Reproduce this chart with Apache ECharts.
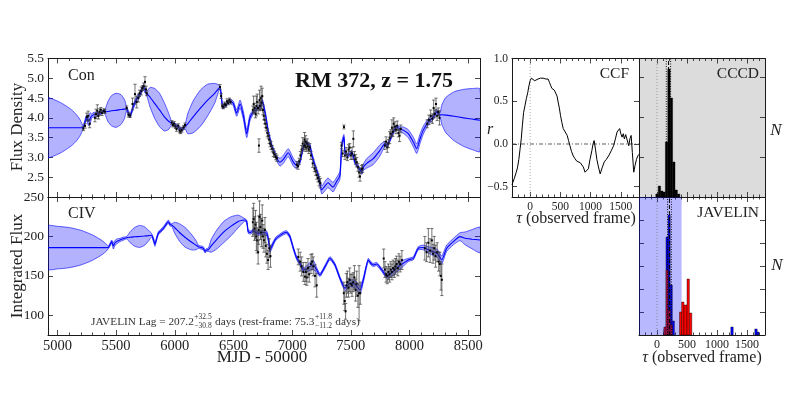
<!DOCTYPE html>
<html>
<head>
<meta charset="utf-8">
<script src="https://cdn.jsdelivr.net/npm/echarts@6/dist/echarts.min.js"></script>
<style>
html, body { margin: 0; padding: 0; background: #fff; }
#chart { width: 789px; height: 395px; }
</style>
</head>
<body>
<div id="chart"></div>
<script>
// tick labels
var mjdTicks = [5000, 5500, 6000, 6500, 7000, 7500, 8000, 8500];
var tauTicks = [0, 500, 1000, 1500];
var conTicks = [2.5, 3.0, 3.5, 4.0, 4.5, 5.0, 5.5];
var civTicks = [100, 150, 200, 250];
var rTicks = [-0.5, 0.0, 0.5, 1.0];

// continuum model: [MJD-50000, mean, sigma]
var conModel = [
  [4920,3.75,0.75],[4980,3.75,0.70],[5037,3.75,0.62],[5090,3.75,0.52],[5122,3.75,0.45],
  [5160,3.75,0.34],[5190,3.75,0.22],[5210,3.75,0.10],[5221,3.76,0.03],[5240,3.95,0.06],
  [5250,4.02,0.05],[5263,3.91,0.10],[5278,3.98,0.15],[5292,4.05,0.05],[5310,4.08,0.06],
  [5335,4.10,0.04],[5363,4.12,0.04],[5391,4.16,0.04],[5406,4.15,0.06],[5430,4.16,0.25],
  [5460,4.18,0.38],[5500,4.19,0.43],[5540,4.21,0.38],[5570,4.22,0.25],[5590,4.23,0.05],
  [5605,4.12,0.06],[5619,4.05,0.05],[5647,4.29,0.06],[5676,4.48,0.06],[5704,4.60,0.06],
  [5732,4.77,0.07],[5761,4.62,0.06],[5790,4.52,0.25],[5830,4.36,0.38],[5870,4.20,0.42],
  [5910,4.03,0.36],[5945,3.92,0.22],[5974,3.86,0.05],[6000,3.82,0.05],[6030,3.76,0.05],
  [6060,3.70,0.05],[6087,3.78,0.05],[6110,3.85,0.25],[6155,4.02,0.40],[6220,4.25,0.46],
  [6280,4.45,0.40],[6340,4.62,0.25],[6385,4.77,0.04],[6408,4.28,0.05],[6430,4.32,0.05],
  [6450,4.38,0.05],[6470,4.43,0.05],[6499,4.36,0.06],[6527,4.12,0.08],[6556,4.35,0.10],
  [6585,4.05,0.10],[6613,3.60,0.10],[6640,4.00,0.08],[6669,4.15,0.05],[6700,4.23,0.05],
  [6726,4.28,0.05],[6746,4.42,0.05],[6768,4.15,0.05],[6783,3.90,0.05],[6797,3.64,0.05],
  [6826,3.30,0.05],[6854,3.09,0.05],[6868,2.98,0.06],[6896,2.88,0.10],[6924,2.95,0.10],
  [6967,3.12,0.10],[7010,2.88,0.10],[7039,2.80,0.08],[7067,2.90,0.05],[7095,3.26,0.05],
  [7124,3.37,0.05],[7152,3.28,0.05],[7166,3.09,0.05],[7194,2.80,0.05],[7223,2.54,0.06],
  [7252,2.18,0.10],[7280,2.28,0.12],[7305,2.36,0.12],[7348,2.25,0.12],[7380,2.40,0.10],
  [7407,2.55,0.10],[7422,3.30,0.08],[7441,3.52,0.06],[7450,3.13,0.05],[7476,3.05,0.05],
  [7507,3.13,0.05],[7535,2.88,0.05],[7564,2.75,0.05],[7592,2.63,0.06],[7606,2.75,0.08],
  [7635,2.85,0.12],[7691,2.97,0.15],[7748,3.18,0.14],[7791,3.35,0.06],[7808,3.30,0.05],
  [7861,3.64,0.05],[7890,3.77,0.05],[7919,3.72,0.05],[7947,3.69,0.08],[7989,3.60,0.10],
  [8032,3.39,0.12],[8061,3.22,0.12],[8089,3.47,0.12],[8117,3.69,0.10],[8160,3.90,0.08],
  [8202,4.02,0.06],[8231,4.15,0.06],[8259,4.07,0.05],[8275,4.08,0.25],[8310,4.07,0.45],
  [8380,4.04,0.62],[8460,4.00,0.72],[8530,3.97,0.77],[8600,3.94,0.79]
];

// continuum observations: [MJD-50000, flux, error]
var conPts = [
  [5221,3.73,0.05],[5235,3.80,0.06],[5250,4.02,0.10],[5262,4.05,0.12],[5275,3.85,0.10],
  [5320,4.00,0.10],[5330,4.10,0.12],[5340,4.18,0.15],[5350,4.05,0.08],[5360,4.15,0.08],
  [5370,4.20,0.06],[5380,4.12,0.06],[5395,4.18,0.05],[5405,4.16,0.05],
  [5590,4.25,0.05],[5605,4.08,0.06],[5620,4.06,0.05],[5640,4.35,0.15],[5661,4.60,0.25],
  [5676,4.40,0.15],[5690,4.50,0.10],[5700,4.62,0.08],[5715,4.68,0.10],[5725,4.75,0.06],
  [5735,4.80,0.08],[5746,4.91,0.13],[5755,4.72,0.08],[5761,4.62,0.06],
  [5975,3.88,0.05],[5985,3.82,0.05],[5995,3.85,0.06],[6005,3.78,0.05],[6015,3.72,0.06],
  [6030,3.80,0.05],[6040,3.68,0.06],[6050,3.65,0.05],[6060,3.70,0.06],[6075,3.76,0.05],
  [6087,3.82,0.05],
  [6385,4.78,0.06],[6395,4.55,0.06],[6405,4.30,0.05],[6415,4.28,0.05],[6425,4.35,0.05],
  [6435,4.32,0.05],[6445,4.42,0.06],[6455,4.38,0.05],[6465,4.45,0.05],[6475,4.40,0.05],
  [6665,4.20,0.10],[6672,4.35,0.20],[6680,4.25,0.12],[6688,4.10,0.10],[6695,4.30,0.25],
  [6702,4.40,0.20],[6710,4.25,0.15],[6717,3.30,0.17],[6722,4.45,0.25],[6728,4.30,0.12],
  [6735,4.50,0.30],[6740,4.38,0.15],[6745,4.55,0.20],[6752,4.20,0.12],[6758,4.05,0.10],
  [6765,3.95,0.10],[6772,3.85,0.10],[6780,3.75,0.08],[6788,3.62,0.10],[6796,3.55,0.08],
  [6804,3.45,0.10],[6812,3.35,0.08],[6820,3.30,0.10],[6830,3.22,0.08],[6840,3.12,0.10],
  [6850,3.08,0.08],[6860,3.02,0.08],[6870,2.98,0.08],
  [7040,2.82,0.08],[7050,2.78,0.08],[7060,2.90,0.08],[7070,3.05,0.10],[7080,3.20,0.10],
  [7090,3.35,0.15],[7100,3.28,0.12],[7105,3.45,0.18],[7110,3.30,0.10],[7115,3.40,0.15],
  [7120,3.25,0.10],[7128,3.35,0.12],[7135,3.28,0.10],[7142,3.20,0.10],[7150,3.25,0.10],
  [7160,3.05,0.10],[7175,2.85,0.10],[7190,2.72,0.08],[7200,2.65,0.10],[7210,2.55,0.10],
  [7220,2.48,0.10],[7230,2.40,0.12],[7240,2.35,0.12],
  [7420,3.30,0.08],[7430,3.10,0.08],[7441,3.77,0.05],[7450,3.05,0.10],[7460,3.15,0.10],
  [7470,3.00,0.08],[7480,3.20,0.12],[7490,3.25,0.10],[7500,3.05,0.10],[7510,3.10,0.15],
  [7521,3.47,0.20],[7530,3.05,0.10],[7540,2.95,0.12],[7550,2.88,0.12],[7560,2.75,0.10],
  [7570,2.62,0.12],[7578,2.52,0.12],[7590,2.70,0.10],[7600,2.72,0.10],
  [7790,3.30,0.10],[7800,3.40,0.12],[7810,3.25,0.12],[7820,3.35,0.10],[7830,3.50,0.15],
  [7840,3.60,0.10],[7850,3.75,0.20],[7858,3.65,0.12],[7865,3.85,0.15],[7875,3.78,0.12],
  [7885,3.70,0.10],[7895,3.80,0.12],[7905,3.62,0.10],[7915,3.55,0.15],[7925,3.72,0.10],
  [8150,3.85,0.10],[8165,3.95,0.12],[8180,4.05,0.15],[8195,3.98,0.12],[8205,4.25,0.20],
  [8215,4.10,0.10],[8225,4.35,0.15],[8235,4.05,0.12],[8245,4.15,0.10],[8255,4.00,0.18]
];

// CIV model: [MJD-50000, mean, sigma]
var civModel = [
  [4920,185.8,27.5],[5000,185.8,27],[5100,185.8,25.5],[5200,185.8,22],[5300,185.8,16],
  [5380,185.8,9],[5420,185.8,4],[5434,186,1.5],[5450,190,2],[5463,193.4,2],[5477,188,4],
  [5491,192,3],[5510,194,3],[5533,195.5,2],[5560,197,2],[5590,198.4,1.5],[5620,199,7],
  [5660,199.5,12],[5700,200,14],[5740,200.5,12],[5775,201,7],[5803,201.5,2],[5818,196,2.5],
  [5831,190,2.5],[5845,197,2],[5860,204,2],[5880,207,2],[5902,210.3,2],[5925,215,2],
  [5945,218.7,2],[5960,215,2],[5974,214.5,1.5],[6000,211,7],[6040,205,11],[6087,199,12.5],
  [6140,193,10],[6180,189,6],[6200,187,2],[6222,186,2],[6243,185,2],[6258,181,2],
  [6272,182.8,2],[6286,183,2],[6310,188,8],[6357,196,12],[6420,206,13.5],[6480,213,12],
  [6540,219,8],[6575,220.5,4],[6598,220.8,1.5],[6613,218.7,2],[6626,206,2],[6645,205,2],
  [6669,207.3,2],[6690,205,2.5],[6711,204,2.5],[6745,205,2.5],[6783,204,3],[6800,194,3],
  [6811,182.8,3],[6839,191.3,2.5],[6860,197,2],[6882,199.7,2],[6924,204,2],[6953,205.3,2],
  [6981,199.7,2],[7010,185,2],[7039,172.3,2],[7067,166,2.5],[7095,157.5,3],[7124,158.6,4],
  [7150,162,5],[7180,163.8,6],[7209,157.5,3],[7237,151.2,2],[7280,161.7,2],[7322,172.3,2],
  [7365,163.8,2],[7407,147,2],[7450,134.3,3],[7493,140.6,4],[7535,139.4,5],[7578,132,5],
  [7606,144.8,3],[7648,170.2,2],[7670,166,2],[7691,163.8,2],[7720,165,2],[7763,157.5,2],
  [7805,150,3],[7848,153.6,4],[7890,159.8,5],[7947,166,4],[7989,170.2,2],[8032,172.3,2],
  [8074,185,2],[8117,186,3],[8160,183,4],[8202,180.7,5],[8240,178,5],[8274,170.2,5],
  [8316,185,4],[8373,193.4,4],[8430,199.7,5],[8472,197.6,8],[8530,196.5,12],[8600,195.5,16]
];

// CIV observations: [MJD-50000, flux, error]
var civPts = [
  [6665,218,18],[6672,222,20],[6680,210,15],[6688,215,18],[6695,200,18],[6702,195,16],
  [6710,180,15],[6715,208,18],[6722,225,20],[6730,212,16],[6738,205,18],[6745,220,20],
  [6752,200,15],[6760,195,15],[6768,208,16],[6775,188,14],[6785,178,12],[6795,170,12],
  [6805,185,12],[6815,175,14],
  [7052,174,10],[7068,168,12],[7081,162,12],[7095,155,12],[7109,149,10],[7118,155,12],
  [7125,148,10],[7135,160,12],[7145,152,10],[7160,165,12],[7170,168,10],[7180,162,12],
  [7195,150,14],[7209,138,15],
  [7440,128,14],[7448,118,12],[7455,105,10],[7462,138,15],[7470,142,14],[7480,135,12],
  [7490,145,15],[7500,140,12],[7510,138,14],[7520,142,12],[7530,148,15],[7540,132,14],
  [7550,140,16],[7560,125,15],[7570,128,35],[7580,128,14],
  [7780,172,12],[7790,158,10],[7800,152,10],[7810,150,10],[7820,155,10],[7830,152,10],
  [7840,158,10],[7850,155,10],[7860,160,10],[7870,158,10],[7880,162,10],[7890,165,10],
  [7900,160,10],[7910,168,10],[7920,165,10],[7935,170,12],
  [8130,185,15],[8145,180,12],[8160,192,18],[8175,182,15],[8190,195,15],[8200,178,12],
  [8210,185,15],[8222,175,14],[8235,180,12],[8248,168,12],[8258,165,15],[8268,150,18],
  [8275,145,20]
];

// cross-correlation function: [tau, r]
var ccf = [
  [-300,-0.48],[-287,-0.45],[-260,-0.40],[-230,-0.33],[-210,-0.28],[-187,-0.18],[-165,-0.05],
  [-147,0.06],[-128,0.22],[-108,0.37],[-85,0.45],[-63,0.53],[-40,0.60],[-20,0.68],[0,0.74],
  [20,0.77],[45,0.76],[75,0.74],[100,0.76],[130,0.76],[170,0.77],[213,0.77],[260,0.76],
  [297,0.76],[320,0.72],[342,0.68],[360,0.65],[380,0.64],[400,0.63],[425,0.63],[445,0.56],
  [463,0.49],[483,0.42],[503,0.33],[525,0.25],[547,0.18],[580,0.14],[613,0.10],[635,0.04],
  [658,-0.02],[685,-0.09],[713,-0.14],[740,-0.17],[770,-0.20],[800,-0.19],[830,-0.22],
  [853,-0.23],[880,-0.27],[908,-0.33],[935,-0.31],[963,-0.29],[990,-0.18],[1020,-0.08],
  [1040,0.00],[1058,0.04],[1080,-0.06],[1103,-0.18],[1130,-0.27],[1158,-0.35],[1190,-0.28],
  [1225,-0.21],[1260,-0.18],[1297,-0.14],[1340,-0.08],[1380,-0.02],[1410,0.06],[1437,0.14],
  [1460,0.12],[1480,0.18],[1500,0.12],[1520,0.08],[1540,0.12],[1558,0.06],[1580,0.11],
  [1603,0.10],[1630,-0.02],[1650,0.06],[1670,0.10],[1690,-0.10],[1713,-0.33],[1735,-0.25],
  [1758,-0.18],[1780,-0.14],[1800,-0.12]
];

// histograms: [bin start, bin end, N]
var cccdBins = [
  [-20,20,30],[20,60,110],[60,100,60],[100,140,50],[140,180,550],[180,220,1280],
  [220,260,990],[260,300,350],[300,340,70],[340,380,30]
];
var javBlue = [
  [115,150,30],[150,185,490],[185,220,600],[220,255,250],[255,290,70],
  [1230,1270,40],[1630,1670,30],[1670,1700,15]
];
var javRedLow = [[115,150,40],[150,185,325],[185,220,125],[220,255,50]];
var javRedHigh = [[375,410,115],[410,450,165],[450,500,150],[500,540,280],[540,580,110]];
var javShade = [[-300, 410]];

// lag markers
var cccdLag = [155, 193, 227];
var javLag = [176, 207, 240];

var serif = '"Liberation Serif", "DejaVu Serif", serif';
var ink = '#1a1a1a';
var txtCol = '#222';

var xAxes = [], yAxes = [];
function fmt1(v) { return (v < 0 ? '\u2212' : '') + Math.abs(v).toFixed(1); }
function fmtInt(v) { return String(Math.round(v)); }
function addX(gi, min, max, pos, ticks, len, line, labels, fs) {
  xAxes.push({
    type: 'value', gridIndex: gi, min: min, max: max, position: pos,
    axisLine: { show: line, onZero: false, lineStyle: { color: ink, width: 1 } },
    axisTick: { show: true, inside: true, length: len, customValues: ticks, lineStyle: { color: ink, width: 0.8 } },
    axisLabel: labels ? { show: true, customValues: labels, fontFamily: serif, fontSize: fs, color: txtCol, margin: 4, formatter: fmtInt } : { show: false },
    splitLine: { show: false }
  });
  return xAxes.length - 1;
}
function addY(gi, min, max, pos, ticks, len, line, labels, fs, formatter) {
  yAxes.push({
    type: 'value', gridIndex: gi, min: min, max: max, position: pos,
    axisLine: { show: line, onZero: false, lineStyle: { color: ink, width: 1 } },
    axisTick: { show: true, inside: true, length: len, customValues: ticks, lineStyle: { color: ink, width: 0.8 } },
    axisLabel: labels ? { show: true, customValues: labels, fontFamily: serif, fontSize: fs, color: txtCol, margin: 4, formatter: formatter } : { show: false },
    splitLine: { show: false }
  });
  return yAxes.length - 1;
}
function minorTicks(a, b, step, majors) {
  var out = [];
  for (var v = a; v <= b; v += step) if (majors.indexOf(v) < 0) out.push(v);
  return out;
}

var mjdMinor = minorTicks(4900, 8600, 100, mjdTicks);
var tauMinor = minorTicks(-300, 1800, 100, tauTicks);

function box(gi, xr, yr, xMaj, xMin, xLab, xfs, yMaj, yLab, yfs, yfmt) {
  var xi = addX(gi, xr[0], xr[1], 'bottom', xMaj, 5, true, xLab, xfs);
  addX(gi, xr[0], xr[1], 'bottom', xMin, 2.5, false, null);
  addX(gi, xr[0], xr[1], 'top', xMaj, 5, true, null);
  addX(gi, xr[0], xr[1], 'top', xMin, 2.5, false, null);
  var yi = addY(gi, yr[0], yr[1], 'left', yMaj, 5, true, yLab, yfs, yfmt);
  addY(gi, yr[0], yr[1], 'right', yMaj, 5, true, null);
  return [xi, yi];
}

var grids = [
  { left: 48, top: 58.5, width: 432, height: 138.5 },
  { left: 48, top: 197, width: 432, height: 138 },
  { left: 512, top: 58.5, width: 127, height: 138.5 },
  { left: 639, top: 58.5, width: 126, height: 138.5, show: true, backgroundColor: '#dcdcdc', borderWidth: 0 },
  { left: 639, top: 197, width: 126, height: 138 }
];
grids.forEach(function (g) { g.containLabel = false; g.outerBoundsMode = 'none'; });

var aCon = box(0, [4920, 8600], [2.0, 5.5], mjdTicks, mjdMinor, null, 14, conTicks, conTicks, 13.5, function (v) { return v.toFixed(1); });
var aCiv = box(1, [4920, 8600], [75, 250], mjdTicks, mjdMinor, mjdTicks, 14.5, civTicks, civTicks, 13.5, fmtInt);
var aCcf = box(2, [-300, 1800], [-0.62, 1.0], tauTicks, tauMinor, tauTicks, 11.5, rTicks, rTicks, 11.5, fmt1);
var aCcd = box(3, [-300, 1800], [0, 1385], tauTicks, tauMinor, null, 11, [400, 800, 1200], null);
var aJav = box(4, [-300, 1800], [0, 690], tauTicks, tauMinor, tauTicks, 12, [115, 230, 345, 460, 575], null);

function clipOf(params) {
  var c = params.coordSys;
  return { type: 'rect', shape: { x: c.x, y: c.y, width: c.width, height: c.height } };
}

function bandSeries(ax, model) {
  return {
    type: 'custom', xAxisIndex: ax[0], yAxisIndex: ax[1], z: 1, silent: true,
    data: [[model[0][0], model[0][1]]],
    renderItem: function (params, api) {
      var up = [], lo = [];
      model.forEach(function (m) {
        up.push(api.coord([m[0], m[1] + m[2]]));
        lo.push(api.coord([m[0], m[1] - m[2]]));
      });
      return {
        type: 'polygon',
        shape: { points: up.concat(lo.reverse()), smooth: 0.2 },
        style: { fill: 'rgba(0,0,255,0.3)', stroke: 'rgba(0,0,255,0.75)', lineWidth: 0.8 },
        clipPath: clipOf(params)
      };
    }
  };
}
function meanSeries(ax, model) {
  return {
    type: 'line', xAxisIndex: ax[0], yAxisIndex: ax[1], z: 2, silent: true,
    data: model.map(function (m) { return [m[0], m[1]]; }),
    showSymbol: false, smooth: 0.2,
    lineStyle: { color: '#0000ff', width: 1.1 }
  };
}
function errSeries(ax, pts) {
  return {
    type: 'custom', xAxisIndex: ax[0], yAxisIndex: ax[1], z: 3, silent: true,
    data: pts,
    renderItem: function (params, api) {
      var t = api.value(0), y = api.value(1), e = api.value(2);
      var hi = api.coord([t, y + e]), lo = api.coord([t, y - e]), c = api.coord([t, y]);
      var st = { stroke: '#3a3a3a', lineWidth: 0.7 };
      return {
        type: 'group', children: [
          { type: 'line', shape: { x1: hi[0], y1: hi[1], x2: lo[0], y2: lo[1] }, style: st },
          { type: 'line', shape: { x1: hi[0] - 1.6, y1: hi[1], x2: hi[0] + 1.6, y2: hi[1] }, style: st },
          { type: 'line', shape: { x1: lo[0] - 1.6, y1: lo[1], x2: lo[0] + 1.6, y2: lo[1] }, style: st },
          { type: 'rect', shape: { x: c[0] - 1, y: c[1] - 1, width: 2, height: 2 }, style: { fill: '#000' } }
        ]
      };
    }
  };
}
function histSeries(ax, bins, fill, z) {
  return {
    type: 'custom', xAxisIndex: ax[0], yAxisIndex: ax[1], z: z, silent: true,
    data: bins,
    encode: { x: [0, 1], y: 2 },
    renderItem: function (params, api) {
      var a = api.coord([api.value(0), api.value(2)]);
      var b = api.coord([api.value(1), 0]);
      return {
        type: 'rect',
        shape: { x: a[0], y: a[1], width: b[0] - a[0], height: b[1] - a[1] },
        style: { fill: fill, stroke: '#000', lineWidth: 0.4 }
      };
    }
  };
}
function vline(ax, x, yr, color, type, w, z) {
  return {
    type: 'line', xAxisIndex: ax[0], yAxisIndex: ax[1], z: z || 4, silent: true,
    data: [[x, yr[0]], [x, yr[1]]], showSymbol: false,
    lineStyle: { color: color, width: w || 1, type: type }
  };
}
function hline(ax, y, xr, color, type, w) {
  return {
    type: 'line', xAxisIndex: ax[0], yAxisIndex: ax[1], z: 2, silent: true,
    data: [[xr[0], y], [xr[1], y]], showSymbol: false,
    lineStyle: { color: color, width: w || 1, type: type }
  };
}

var series = [
  bandSeries(aCon, conModel), meanSeries(aCon, conModel), errSeries(aCon, conPts),
  bandSeries(aCiv, civModel), meanSeries(aCiv, civModel), errSeries(aCiv, civPts),
  hline(aCcf, 0, [-300, 1800], '#333', [4, 2, 1, 2], 0.8),
  vline(aCcf, 0, [-0.62, 1.0], '#aaa', [1, 2], 1, 1),
  { type: 'line', xAxisIndex: aCcf[0], yAxisIndex: aCcf[1], z: 3, silent: true,
    data: ccf, showSymbol: false, lineStyle: { color: '#000', width: 1 } },
  vline(aCcd, 0, [0, 1385], '#999', [1, 2], 1, 1),
  histSeries(aCcd, cccdBins, '#000', 2),
  vline(aCcd, cccdLag[0], [0, 1385], '#000', [1, 1.5], 0.9),
  vline(aCcd, cccdLag[1], [0, 1385], '#000', [4, 2], 1),
  vline(aCcd, cccdLag[2], [0, 1385], '#000', [1, 1.5], 0.9),
  { type: 'custom', xAxisIndex: aJav[0], yAxisIndex: aJav[1], z: 1, silent: true,
    data: javShade,
    renderItem: function (params, api) {
      var a = api.coord([api.value(0), 690]), b = api.coord([api.value(1), 0]);
      return { type: 'rect', shape: { x: a[0], y: a[1], width: b[0] - a[0], height: b[1] - a[1] },
               style: { fill: 'rgba(0,0,255,0.28)' }, clipPath: clipOf(params) };
    } },
  vline(aJav, 0, [0, 690], '#888', [1, 2], 1, 2),
  histSeries(aJav, javBlue, '#0000ff', 3),
  histSeries(aJav, javRedLow, '#b3124e', 4),
  histSeries(aJav, javRedHigh, '#ff0000', 4),
  vline(aJav, javLag[0], [0, 690], '#000', [1, 1.5], 0.9, 5),
  vline(aJav, javLag[1], [0, 690], '#000', [4, 2], 1, 5),
  vline(aJav, javLag[2], [0, 690], '#000', [1, 1.5], 0.9, 5)
];

// text
function txt(x, y, s, size, o) {
  o = o || {};
  var al = o.align || 'center';
  return {
    type: 'text', x: x, y: y, rotation: o.rot || 0, silent: true, z: 100,
    style: {
      text: s, fontFamily: serif, fontSize: size,
      fontWeight: o.bold ? 'bold' : 'normal', fontStyle: o.italic ? 'italic' : 'normal',
      fill: o.color || txtCol, align: al, verticalAlign: 'middle',
      textAlign: al, textVerticalAlign: 'middle', rich: o.rich
    }
  };
}
var tauRich = { g: { fontFamily: serif, fontSize: 16, fontStyle: 'italic', fill: txtCol } };
var graphics = [
  txt(68, 76, 'Con', 16, { align: 'left' }),
  txt(68, 214, 'CIV', 16, { align: 'left' }),
  txt(374, 81, 'RM 372, z = 1.75', 22, { bold: true, color: '#111' }),
  txt(18, 127, 'Flux Density', 17, { rot: Math.PI / 2 }),
  txt(18, 266, 'Integrated Flux', 17, { rot: Math.PI / 2 }),
  txt(262, 358, 'MJD - 50000', 17),
  txt(629, 74, 'CCF', 15.5, { align: 'right' }),
  txt(759, 74, 'CCCD', 15.5, { align: 'right' }),
  txt(759, 213, 'JAVELIN', 15.5, { align: 'right' }),
  txt(490, 130, 'r', 16, { italic: true }),
  txt(776, 131, 'N', 17, { italic: true }),
  txt(777, 266, 'N', 17, { italic: true }),
  txt(576, 219, '{g|\u03c4} (observed frame)', 16, { rich: tauRich }),
  txt(702, 358, '{g|\u03c4} (observed frame)', 16, { rich: tauRich })
];

// JAVELIN lag annotation with stacked super/subscripts
var lagParts = [
  ['JAVELIN Lag = 207.2', '+32.5', '\u221230.8'],
  [' days (rest-frame: 75.3', '+11.8', '\u221211.2'],
  [' days)']
];
var lagSize = 11.3, supSize = 7.5;
var mctx = document.createElement('canvas').getContext('2d');
function tw(s, size) { mctx.font = size + 'px ' + serif; return mctx.measureText(s).width; }
var lx = 91, ly = 322;
lagParts.forEach(function (p) {
  graphics.push(txt(lx, ly, p[0], lagSize, { align: 'left', color: '#333' }));
  lx += tw(p[0], lagSize);
  if (p[1]) {
    graphics.push(txt(lx + 0.5, ly - 4.5, p[1], supSize, { align: 'left', color: '#333' }));
    graphics.push(txt(lx + 0.5, ly + 4, p[2], supSize, { align: 'left', color: '#333' }));
    lx += Math.max(tw(p[1], supSize), tw(p[2], supSize)) + 1;
  }
});

var chart = echarts.init(document.getElementById('chart'), null, { renderer: 'canvas' });
chart.setOption({
  animation: false,
  backgroundColor: '#fff',
  grid: grids,
  xAxis: xAxes,
  yAxis: yAxes,
  series: series,
  graphic: { elements: graphics }
});
</script>
</body>
</html>
